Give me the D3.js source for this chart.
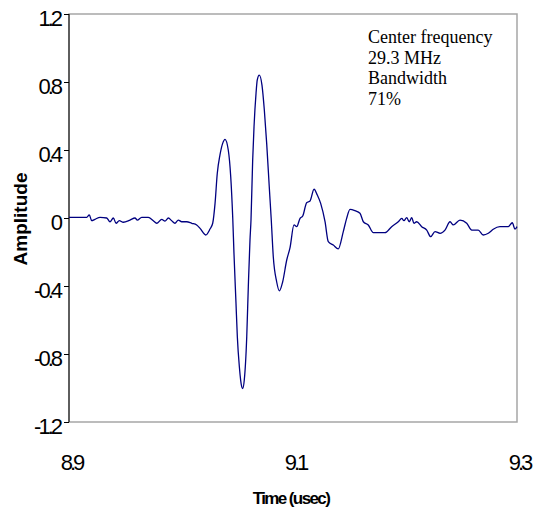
<!DOCTYPE html>
<html lang="en">
<head>
  <meta charset="UTF-8">
  <title>Amplitude vs Time - D3</title>
  <script src="https://d3js.org/d3.v7.min.js"></script>
  <style>
    body {
      margin: 0;
      font-family: "Liberation Sans", Arial, sans-serif;
      background: #fff;
    }

    .line {
      fill: none;
      stroke: #000080;
      stroke-width: 1.3;
    }

    .frame {
      fill: none;
      stroke: #a6a6a6;
      stroke-width: 1.5;
    }

    .tick text {
      font-family: "Liberation Sans", Arial, sans-serif;
      font-size: 22px;
      letter-spacing: -3px;
      fill: #000;
    }

    .axis-label {
      font-size: 18px;
      font-weight: bold;
    }

    .x-label {
      font-size: 17px;
      letter-spacing: -1.6px;
    }

    .y-label {
      font-size: 19px;
      letter-spacing: 0px;
    }

    .note {
      font-family: "Liberation Serif", "Times New Roman", serif;
      font-size: 18px;
    }
  </style>
</head>
<body>

<script>
  // Data: time (usec) and amplitude
  var time = [
    8.9000, 8.9158, 8.9181, 8.9203, 8.9232, 8.9277, 8.9337, 8.9366, 8.9396, 8.9420,
    8.9449, 8.9485, 8.9545, 8.9589, 8.9610, 8.9649, 8.9708, 8.9753, 8.9783, 8.9828,
    8.9857, 8.9887, 8.9917, 8.9946, 8.9976, 9.0006, 9.0051, 9.0096, 9.0140, 9.0170,
    9.0221, 9.0259, 9.0283, 9.0304, 9.0324, 9.0348, 9.0372, 9.0393, 9.0422, 9.0444,
    9.0462, 9.0473, 9.0491, 9.0503, 9.0521, 9.0542, 9.0551, 9.0565, 9.0587, 9.0601,
    9.0616, 9.0625, 9.0640, 9.0652, 9.0670, 9.0681, 9.0699, 9.0723, 9.0744, 9.0765,
    9.0788, 9.0806, 9.0824, 9.0854, 9.0878, 9.0908, 9.0944, 9.0973, 9.1009, 9.1033,
    9.1063, 9.1087, 9.1122, 9.1152, 9.1188, 9.1217, 9.1247, 9.1286, 9.1315, 9.1360,
    9.1404, 9.1449, 9.1479, 9.1509, 9.1554, 9.1598, 9.1628, 9.1672, 9.1717, 9.1821,
    9.1881, 9.1940, 9.1971, 9.1991, 9.2015, 9.2038, 9.2060, 9.2080, 9.2104, 9.2149,
    9.2194, 9.2229, 9.2268, 9.2313, 9.2357, 9.2402, 9.2431, 9.2491, 9.2551, 9.2596,
    9.2654, 9.2699, 9.2744, 9.2788, 9.2848, 9.2922, 9.2958, 9.2982, 9.3000
  ];

  var amplitude = [
    0.004, 0.004, 0.018, -0.016, -0.008, 0.004, 0.000, -0.022, 0.000, -0.031,
    -0.016, -0.025, -0.012, 0.000, -0.012, 0.004, 0.004, -0.016, -0.031, -0.008,
    -0.018, 0.000, -0.016, -0.031, -0.012, -0.022, -0.022, -0.031, -0.041, -0.061,
    -0.100, -0.065, -0.031, 0.086, 0.263, 0.371, 0.439, 0.463, 0.400, 0.243,
    0.000, -0.208, -0.502, -0.698, -0.875, -0.992, -1.003, -0.953, -0.698, -0.404,
    -0.129, -0.012, 0.341, 0.537, 0.734, 0.812, 0.841, 0.782, 0.635, 0.439,
    0.184, -0.012, -0.228, -0.375, -0.429, -0.375, -0.247, -0.176, -0.041, -0.051,
    -0.002, 0.012, 0.090, 0.100, 0.169, 0.135, 0.086, -0.022, -0.139, -0.159,
    -0.182, -0.080, -0.002, 0.051, 0.043, 0.028, -0.022, -0.041, -0.086, -0.086,
    -0.051, -0.022, -0.002, -0.016, 0.002, -0.022, 0.002, -0.031, -0.022, -0.051,
    -0.071, -0.110, -0.080, -0.090, -0.071, -0.022, -0.041, -0.012, -0.031, -0.071,
    -0.071, -0.100, -0.090, -0.066, -0.051, -0.051, -0.028, -0.066, -0.051
  ];

  var xTicks = [8.9, 9.1, 9.3];
  var xTickLabels = ["8.9", "9.1", "9.3"];
  var yTicks = [1.2, 0.8, 0.4, 0, -0.4, -0.8, -1.2];
  var yTickLabels = ["1.2", "0.8", "0.4", "0", "-0.4", "-0.8", "-1.2"];
  var noteLines = ["Center frequency", "29.3 MHz", "Bandwidth", "71%"];

  var dataset = time.map((t, i) => [t, amplitude[i]]);

  // Margins and dimensions
  var margin = { top: 14, right: 18, bottom: 88, left: 69 },
      width = 535 - margin.left - margin.right,
      height = 510 - margin.top - margin.bottom;

  var svg = d3.select("body")
              .append("svg")
              .attr("width", width + margin.left + margin.right)
              .attr("height", height + margin.top + margin.bottom)
              .append("g")
              .attr("transform", `translate(${margin.left},${margin.top})`);

  // Scales
  var xScale = d3.scaleLinear()
                 .domain([8.9, 9.3])
                 .range([0, width]);

  var yScale = d3.scaleLinear()
                 .domain([-1.2, 1.2])
                 .range([height, 0]);

  // Gray plot frame
  svg.append("rect")
     .attr("class", "frame")
     .attr("x", 0)
     .attr("y", 0)
     .attr("width", width)
     .attr("height", height);

  // X axis (labels only)
  var xAxis = svg.append("g")
     .attr("transform", `translate(0,${height})`)
     .call(d3.axisBottom(xScale)
             .tickValues(xTicks)
             .tickSize(0)
             .tickFormat((d, i) => xTickLabels[i]));
  xAxis.select(".domain").remove();
  xAxis.selectAll("text")
       .attr("y", 48)
       .attr("dy", 0)
       .attr("dx", 2);

  // Y axis
  var yAxis = svg.append("g")
     .call(d3.axisLeft(yScale)
             .tickValues(yTicks)
             .tickSize(5)
             .tickPadding(4)
             .tickFormat((d, i) => yTickLabels[i]));
  yAxis.select(".domain")
       .attr("stroke", "#000")
       .attr("d", `M0,0V${height}`);
  yAxis.selectAll("text")
       .attr("dy", "0.5em");

  // Axis titles
  svg.append("text")
     .attr("class", "axis-label x-label")
     .attr("x", xScale(9.1) - 2)
     .attr("y", height + 82)
     .attr("text-anchor", "middle")
     .text("Time (usec)");

  svg.append("text")
     .attr("class", "axis-label y-label")
     .attr("transform", "rotate(-90)")
     .attr("x", -yScale(0) - 1)
     .attr("y", -42)
     .attr("text-anchor", "middle")
     .text("Amplitude");

  // Waveform
  var lineGen = d3.line()
                  .x(d => xScale(d[0]))
                  .y(d => yScale(d[1]))
                  .curve(d3.curveMonotoneX);

  svg.append("path")
     .datum(dataset)
     .attr("class", "line")
     .attr("d", lineGen);

  // Annotation
  svg.selectAll(".note")
     .data(noteLines)
     .enter()
     .append("text")
     .attr("class", "note")
     .attr("x", 299)
     .attr("y", (d, i) => 29 + i * 20.5)
     .text(d => d);
</script>

</body>
</html>
